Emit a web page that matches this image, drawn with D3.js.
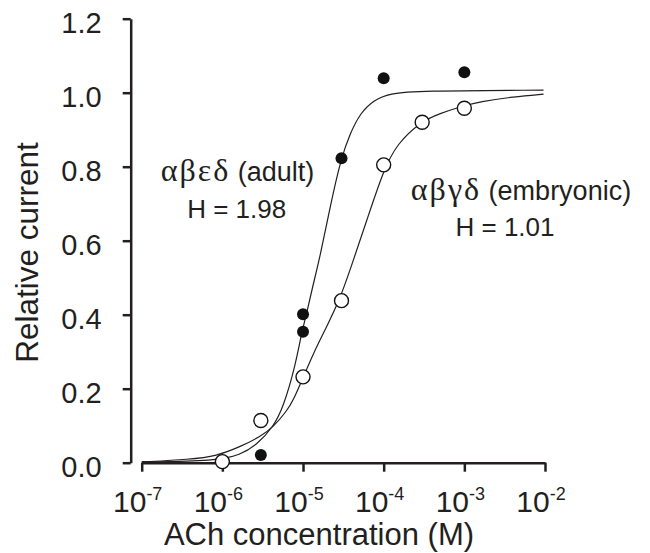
<!DOCTYPE html>
<html>
<head>
<meta charset="utf-8">
<script src="https://cdn.jsdelivr.net/npm/d3@7"></script>
<style>
  body { margin: 0; background: #fff; }
  text { font-family: "Liberation Sans", Arial, sans-serif; fill: #231f20; }
  .greek { font-family: "Liberation Serif", "Times New Roman", serif; }
</style>
</head>
<body>
<div id="chart"></div>
<script>
// measured points (ACh concentration in M, relative current)
const adultConc = [3e-6, 1e-5, 1e-5, 3e-5, 1e-4, 1e-3];
const adultCurrent = [0.021, 0.401, 0.354, 0.823, 1.039, 1.055];
const embConc = [1e-6, 3e-6, 1e-5, 3e-5, 1e-4, 3e-4, 1e-3];
const embCurrent = [0.003, 0.114, 0.232, 0.438, 0.805, 0.920, 0.958];

// fitted curves (log10 conc, relative current)
const adultFitLog = [-7.0, -6.07, -5.78, -5.573, -5.367, -5.243, -5.098, -5.015, -4.953, -4.891, -4.788, -4.664, -4.531, -4.416, -4.292, -4.127, -3.919, -3.588, -2.018];
const adultFitY   = [0.002, 0.005, 0.021, 0.048, 0.097, 0.151, 0.259, 0.354, 0.404, 0.467, 0.557, 0.692, 0.821, 0.890, 0.944, 0.980, 0.998, 1.005, 1.007];
const embFitLog = [-7.0, -6.40, -6.07, -5.78, -5.53, -5.367, -5.20, -5.119, -4.995, -4.871, -4.705, -4.548, -4.416, -4.208, -4.003, -3.836, -3.538, -3.299, -3.051, -2.803, -2.39, -2.018];
const embFitY   = [0.002, 0.009, 0.018, 0.043, 0.070, 0.097, 0.140, 0.169, 0.232, 0.296, 0.368, 0.440, 0.521, 0.656, 0.790, 0.862, 0.922, 0.944, 0.962, 0.976, 0.989, 0.996];

const xTickExp = [-7, -6, -5, -4, -3, -2];
const yTicks = [0, 0.2, 0.4, 0.6, 0.8, 1.0, 1.2];

const W = 650, H = 553;
const svg = d3.select("#chart").append("svg")
  .attr("width", W)
  .attr("height", H);

const x = d3.scaleLog().domain([1e-7, 1e-2]).range([141.7, 545]);
const y = d3.scaleLinear().domain([0, 1.2]).range([462.7, 18.7]);
const yAxisX = 130.7;

// y axis
const yAxis = svg.append("g")
  .attr("transform", `translate(${yAxisX},0)`)
  .call(d3.axisLeft(y).tickValues(yTicks).tickSize(8).tickSizeOuter(0).tickFormat(d3.format(".1f")));
yAxis.select(".domain").attr("stroke", "#231f20").attr("stroke-width", 2.5);
yAxis.selectAll(".tick line").attr("stroke", "#231f20").attr("stroke-width", 2.5);
yAxis.selectAll(".tick text")
  .attr("x", -29)
  .attr("dy", "0.48em")
  .attr("fill", "#231f20")
  .style("font-size", "29px")
  .style("font-family", "Liberation Sans, Arial, sans-serif");

// x axis
const xAxis = svg.append("g")
  .attr("transform", `translate(0,${y(0)})`)
  .call(d3.axisBottom(x).tickValues(xTickExp.map(e => Math.pow(10, e))).tickSize(9).tickSizeOuter(0).tickFormat(""));
xAxis.select(".domain").attr("stroke", "#231f20").attr("stroke-width", 2.5);
xAxis.selectAll(".tick line").attr("stroke", "#231f20").attr("stroke-width", 2.5);

const xLab = svg.append("g").selectAll("text")
  .data(xTickExp)
  .join("text")
  .attr("x", d => x(Math.pow(10, d)) - 4)
  .attr("y", 511.7)
  .attr("text-anchor", "middle")
  .style("font-size", "30px");
xLab.append("tspan").text("10");
xLab.append("tspan")
  .attr("dy", -12)
  .style("font-size", "18px")
  .text(d => d);

// axis titles
svg.append("text")
  .attr("x", 319)
  .attr("y", 545)
  .attr("text-anchor", "middle")
  .style("font-size", "31px")
  .text("ACh concentration (M)");

svg.append("text")
  .attr("transform", "translate(38,252.5) rotate(-90)")
  .attr("text-anchor", "middle")
  .style("font-size", "31.5px")
  .text("Relative current");

// fitted curves
const line = d3.line()
  .x(d => x(Math.pow(10, d[0])))
  .y(d => y(d[1]))
  .curve(d3.curveBasis);

svg.append("path")
  .attr("d", line(d3.zip(adultFitLog, adultFitY)))
  .attr("fill", "none")
  .attr("stroke", "#231f20")
  .attr("stroke-width", 1.2);

svg.append("path")
  .attr("d", line(d3.zip(embFitLog, embFitY)))
  .attr("fill", "none")
  .attr("stroke", "#231f20")
  .attr("stroke-width", 1.2);

// points
svg.append("g").selectAll("circle")
  .data(d3.zip(adultConc, adultCurrent))
  .join("circle")
  .attr("cx", d => x(d[0]))
  .attr("cy", d => y(d[1]))
  .attr("r", 6)
  .attr("fill", "#111");

svg.append("g").selectAll("circle")
  .data(d3.zip(embConc, embCurrent))
  .join("circle")
  .attr("cx", d => x(d[0]))
  .attr("cy", d => y(d[1]))
  .attr("r", 7)
  .attr("fill", "#fff")
  .attr("stroke", "#111")
  .attr("stroke-width", 1.4);

// labels
function label(cx, by, greek, rest) {
  const t = svg.append("text")
    .attr("x", cx)
    .attr("y", by)
    .attr("text-anchor", "middle")
    .style("font-size", "27px");
  t.append("tspan").attr("class", "greek")
    .style("font-size", "32px")
    .style("letter-spacing", "2px")
    .text(greek);
  t.append("tspan").text(rest);
}
label(237.5, 181, "αβεδ", " (adult)");
label(521, 200, "αβγδ", " (embryonic)");

svg.append("text")
  .attr("x", 236.7).attr("y", 218.3)
  .attr("text-anchor", "middle")
  .style("font-size", "26px")
  .text("H = 1.98");

svg.append("text")
  .attr("x", 505).attr("y", 236)
  .attr("text-anchor", "middle")
  .style("font-size", "26px")
  .text("H = 1.01");
</script>
</body>
</html>
